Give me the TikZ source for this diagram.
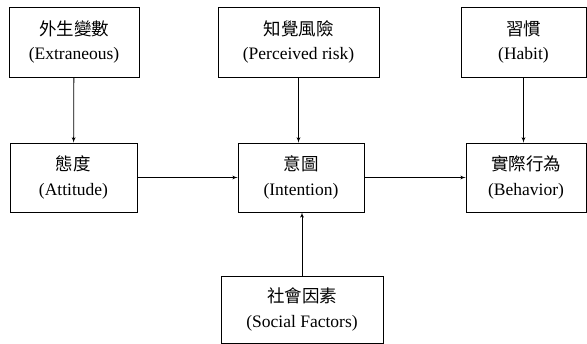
\documentclass[tikz,border=0pt]{standalone}
\usepackage{fontspec}
\setmainfont{Liberation Serif}
\newfontfamily\cjk{Noto Sans CJK TC}
\usepackage{tikz}
\usetikzlibrary{arrows}

\begin{document}
\begin{tikzpicture}[x=1pt,y=-1pt]
			\tikzset{box/.style = {shape=rectangle,draw,line width=0.8pt,align=center,inner sep=0pt,font=\fontsize{17.5}{24.5}\selectfont}}
			\tikzset{edge/.style = {->,> = latex',line width=0.8pt}}
			\useasboundingbox (0,0) rectangle (587,344);
			% top row
			\node[box,minimum width=130pt,minimum height=70pt] (ext) at (74,42) {{\cjk 外生變數}\\(Extraneous)};
			\node[box,minimum width=161pt,minimum height=70pt] (risk) at (298.5,42) {{\cjk 知覺風險}\\(Perceived risk)};
			\node[box,minimum width=125pt,minimum height=70pt] (habit) at (523.5,42) {{\cjk 習慣}\\(Habit)};
			% middle row
			\node[box,minimum width=127pt,minimum height=69pt] (att) at (73.5,177.5) {{\cjk 態度}\\(Attitude)};
			\node[box,minimum width=126pt,minimum height=69pt] (int) at (301,177.5) {{\cjk 意圖}\\(Intention)};
			\node[box,minimum width=120pt,minimum height=69pt] (beh) at (526,177.5) {{\cjk 實際行為}\\(Behavior)};
			% bottom
			\node[box,minimum width=162pt,minimum height=67pt] (soc) at (302,309.5) {{\cjk 社會因素}\\(Social Factors)};
			% edges
			\draw[edge] (ext) -- (att);
			\draw[edge] (risk.south) -- (risk.south |- int.north);
			\draw[edge] (habit.south) -- (habit.south |- beh.north);
			\draw[edge] (att) -- (int);
			\draw[edge] (int) -- (beh);
			\draw[edge] (soc.north) -- (soc.north |- int.south);
		\end{tikzpicture}
\end{document}
